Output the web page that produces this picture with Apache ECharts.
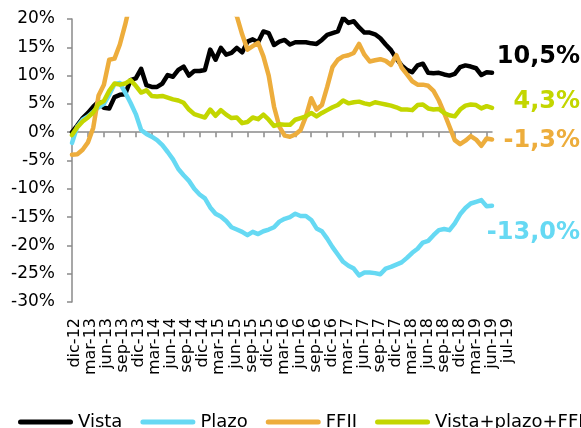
<!DOCTYPE html>
<html>
<head>
<meta charset="utf-8">
<script src="https://cdn.jsdelivr.net/npm/echarts@6/dist/echarts.min.js"></script>
<style>
html,body{margin:0;padding:0;background:#fff;}
#c{width:581px;height:428px;}
</style>
</head>
<body>
<div id="c"></div>
<script>
// Monthly categories dic-12 .. jul-19
const monthNames = ['ene','feb','mar','abr','may','jun','jul','ago','sep','oct','nov','dic'];
const categories = [];
for (let k = 0; k < 80; k++) {
  const m = (11 + k) % 12;
  const y = 12 + Math.floor((11 + k) / 12);
  categories.push(monthNames[m] + '-' + y);
}

const tickLabels = ['dic-12','mar-13','jun-13','sep-13','dic-13','mar-14','jun-14','sep-14','dic-14',
  'mar-15','jun-15','sep-15','dic-15','mar-16','jun-16','sep-16','dic-16','mar-17','jun-17','sep-17',
  'dic-17','mar-18','jun-18','sep-18','dic-18','mar-19','jun-19','jul-19'];

const yTicks = [-30, -25, -20, -15, -10, -5, 0, 5, 10, 15, 20];

const vista = [0,1.2,2.5,3.4,4.5,5.4,4.3,4.2,6.2,6.6,
  6.7,9.2,9.5,11.2,8.3,8.0,8.0,8.6,10.1,9.8,
  11.0,11.6,10.0,10.8,10.8,11.0,14.6,12.8,14.9,13.7,
  14.0,14.9,14.1,16.0,16.4,15.9,17.8,17.5,15.4,16.0,
  16.3,15.5,15.9,15.9,15.9,15.7,15.6,16.3,17.2,17.5,
  17.8,20.2,19.3,19.6,18.5,17.6,17.6,17.3,16.6,15.5,
  14.5,13.0,11.8,11.0,10.6,11.8,12.1,10.5,10.4,10.5,
  10.2,10.0,10.3,11.5,11.8,11.6,11.3,10.1,10.6,10.5];

const plazo = [-1.9,1.0,2.2,2.8,3.6,4.4,5.0,6.6,8.5,8.7,
  7.0,5.2,3.2,0.4,-0.3,-0.8,-1.4,-2.3,-3.5,-4.8,
  -6.5,-7.6,-8.6,-10.0,-11.0,-11.7,-13.3,-14.4,-14.9,-15.7,
  -16.8,-17.2,-17.6,-18.2,-17.6,-18.0,-17.5,-17.2,-16.8,-15.8,
  -15.3,-15.0,-14.4,-14.8,-14.8,-15.5,-17.0,-17.5,-18.8,-20.3,
  -21.6,-22.9,-23.6,-24.1,-25.3,-24.8,-24.8,-24.9,-25.1,-24.1,
  -23.8,-23.4,-23.0,-22.2,-21.3,-20.6,-19.5,-19.2,-18.2,-17.3,
  -17.1,-17.3,-16.1,-14.5,-13.4,-12.6,-12.3,-12.0,-13.1,-13.0];

const ffii = [-4.0,-3.9,-3.1,-1.8,0.8,6.5,8.4,12.8,13.0,15.5,
  19.0,23,27,30,32,33,34,34,35,34,
  33,32,31,30,29,28,27,26,25,23,
  21.5,20.5,17.3,14.6,15.2,15.8,13.4,10.0,4.5,1.0,
  -0.6,-0.8,-0.4,0.4,2.8,6.0,4.0,4.8,8.0,11.5,
  12.8,13.4,13.6,14.0,15.6,13.7,12.5,12.7,12.9,12.6,
  11.9,13.6,11.4,10.2,9.0,8.4,8.4,8.2,7.3,5.6,
  3.4,1.0,-1.4,-2.1,-1.5,-0.7,-1.3,-2.4,-1.1,-1.3];

const total = [-0.5,0.9,1.9,2.6,3.5,5.0,5.5,7.3,8.6,8.4,
  8.6,9.2,8.2,7.0,7.4,6.4,6.3,6.4,6.1,5.8,
  5.6,5.2,4.0,3.2,2.9,2.6,4.0,2.9,3.9,3.1,
  2.5,2.6,1.6,1.8,2.6,2.3,3.1,2.2,1.1,1.4,
  1.3,1.3,2.2,2.5,2.8,3.4,2.8,3.4,3.9,4.4,
  4.8,5.6,5.1,5.3,5.4,5.1,4.9,5.3,5.1,4.9,
  4.7,4.4,4.0,4.0,3.9,4.8,4.9,4.2,4.0,4.1,
  3.4,3.0,2.8,4.0,4.7,4.9,4.8,4.2,4.6,4.3];

const seriesNames = ['Vista','Plazo','FFII','Vista+plazo+FFII'];
const colors = ['#000000','#66D9F3','#EDAD3C','#C3D600'];
const seriesData = [vista, plazo, ffii, total];
const endOffsets = [[88,-16.5],[88,27],[88,1.5],[88,-6.5]];

const FONT = 'DejaVu Sans';
const chart = echarts.init(document.getElementById('c'), null, {renderer:'canvas'});

const fmt = v => v.toFixed(1).replace('.', ',') + '%';
const capsule = 'path://M2.5,0 H52.5 A2.5,2.5 0 0 1 52.5,5 H2.5 A2.5,2.5 0 0 1 2.5,0 Z';

chart.setOption({
  animation: false,
  backgroundColor: '#ffffff',
  grid: [
    {left: 72, right: 89, top: 19, bottom: 126},
    {left: 75, right: 73, top: 19, bottom: 126}
  ],
  legend: {
    type: 'plain',
    orient: 'horizontal',
    left: 18, top: 413, width: 900,
    padding: 0,
    icon: capsule,
    itemWidth: 55, itemHeight: 5, itemGap: 18,
    textStyle: {fontFamily: FONT, fontSize: 18, color: '#000', padding: [0,0,0,0]},
    data: seriesNames
  },
  xAxis: [
    {
      type: 'category', gridIndex: 0, data: categories, boundaryGap: false,
      axisLine: {onZero: true, lineStyle: {color: '#8a8a8a', width: 1.5}},
      axisTick: {show: true, interval: 2, length: 5, lineStyle: {color: '#8a8a8a', width: 1.5}},
      axisLabel: {show: false}
    },
    {
      type: 'category', gridIndex: 1, data: tickLabels, boundaryGap: false,
      axisLine: {show: false}, axisTick: {show: false},
      axisLabel: {interval: 0, rotate: 90, margin: 16, fontFamily: FONT, fontSize: 16, color: '#000'}
    }
  ],
  yAxis: [
    {
      type: 'value', gridIndex: 0, min: yTicks[0], max: yTicks[yTicks.length-1], interval: 5,
      axisLine: {show: true, lineStyle: {color: '#8a8a8a', width: 1.5}},
      axisTick: {show: true, length: 5, lineStyle: {color: '#8a8a8a', width: 1.5}},
      splitLine: {show: false},
      axisLabel: {margin: 17, fontFamily: FONT, fontSize: 17, color: '#000', formatter: v => v + '%'}
    },
    {type: 'value', gridIndex: 1, show: false, min: 0, max: 1}
  ],
  series: seriesNames.map((name, k) => ({
    name: name,
    type: 'line',
    xAxisIndex: 0, yAxisIndex: 0,
    data: seriesData[k],
    symbol: 'none',
    clip: true,
    color: colors[k],
    itemStyle: {color: colors[k]},
    lineStyle: {width: 4.5, color: colors[k], cap: 'round', join: 'round'},
    endLabel: {
      show: true,
      distance: 0,
      align: 'right',
      verticalAlign: 'middle',
      offset: endOffsets[k],
      fontFamily: FONT, fontSize: 24, fontWeight: 'bold',
      color: colors[k],
      formatter: p => fmt(p.value)
    }
  }))
});
</script>
</body>
</html>
